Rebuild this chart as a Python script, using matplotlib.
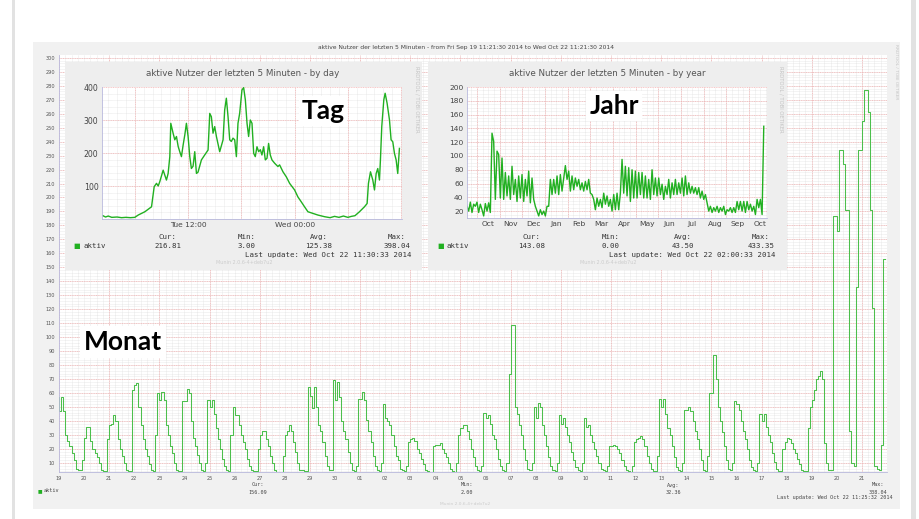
import numpy as np
import matplotlib.pyplot as plt
from matplotlib.patches import Rectangle

W, H = 920, 519

# ---------------- data ----------------
# Monat: 2-hour samples, one row per day (first sample 2h before the day label)
monat_labels = ['19', '20', '21', '22', '23', '24', '25', '26', '27', '28', '29', '30',
                '01', '02', '03', '04', '05', '06', '07', '08', '09', '10', '11', '12',
                '13', '14', '15', '16', '17', '18', '19', '20', '21']
monat_rows = [
    [57, 47, 57, 47, 30, 26, 22, 17, 12, 6, 5, 5],
    [12, 28, 36, 36, 26, 20, 17, 14, 10, 5, 4, 4],
    [27, 37, 38, 44, 40, 27, 20, 15, 10, 5, 4, 4],
    [62, 66, 67, 50, 37, 27, 20, 15, 9, 5, 4, 30],
    [60, 55, 61, 55, 37, 30, 22, 17, 10, 5, 4, 4],
    [54, 54, 63, 60, 40, 28, 22, 16, 10, 5, 4, 10],
    [55, 50, 55, 45, 35, 27, 20, 13, 8, 5, 4, 30],
    [50, 44, 44, 37, 30, 25, 20, 13, 8, 5, 4, 4],
    [20, 30, 33, 33, 27, 22, 15, 10, 5, 3, 3, 3],
    [15, 30, 33, 37, 33, 25, 18, 10, 5, 5, 4, 4],
    [64, 58, 49, 64, 50, 37, 33, 25, 15, 8, 5, 5],
    [69, 55, 68, 57, 40, 33, 27, 18, 10, 5, 4, 8],
    [56, 56, 61, 55, 41, 33, 25, 15, 8, 5, 4, 10],
    [52, 42, 40, 37, 30, 22, 15, 12, 6, 5, 4, 8],
    [25, 27, 28, 26, 20, 17, 13, 9, 5, 4, 3, 3],
    [22, 23, 23, 24, 20, 17, 14, 10, 6, 4, 3, 10],
    [30, 35, 37, 37, 33, 27, 20, 14, 8, 5, 4, 8],
    [46, 42, 44, 38, 30, 27, 20, 13, 8, 5, 4, 10],
    [74, 109, 109, 50, 45, 37, 30, 20, 12, 6, 5, 10],
    [50, 42, 53, 50, 37, 30, 22, 14, 8, 5, 4, 10],
    [44, 38, 42, 36, 30, 25, 18, 12, 7, 5, 4, 10],
    [42, 36, 37, 30, 25, 20, 15, 10, 6, 5, 4, 8],
    [22, 22, 23, 22, 20, 17, 12, 8, 5, 4, 3, 8],
    [25, 27, 28, 29, 27, 22, 15, 10, 6, 4, 4, 15],
    [56, 50, 56, 45, 35, 30, 22, 14, 7, 5, 4, 10],
    [48, 48, 50, 47, 40, 33, 27, 20, 12, 5, 4, 15],
    [60, 60, 87, 70, 50, 40, 32, 22, 12, 6, 5, 10],
    [54, 52, 48, 40, 33, 27, 20, 12, 7, 5, 4, 10],
    [45, 40, 45, 36, 30, 25, 17, 11, 6, 4, 4, 20],
    [25, 28, 27, 24, 20, 17, 13, 9, 5, 4, 4, 35],
    [50, 55, 62, 70, 72, 76, 70, 24, 10, 5, 5, 187],
    [187, 176, 234, 234, 224, 191, 191, 33, 10, 8, 136, 234],
    [234, 255, 277, 277, 261, 191, 121, 8, 6, 5, 23, 156],
]
monat_last = [156]

# Tag: hours since Tue 00:00
tag_hours = [2.4, 2.7, 3.0, 3.4, 4.0, 4.5, 5.0, 5.5, 6.0, 6.38, 7.13, 7.88, 8.18, 8.44,
             8.63, 8.81, 9.19, 9.56, 9.75, 9.94, 10.05, 10.31, 10.5, 10.69, 10.88, 11.06,
             11.25, 11.44, 11.63, 11.81, 12.0, 12.19, 12.37, 12.56, 12.75, 12.94, 13.12,
             13.5, 13.87, 14.25, 14.44, 14.62, 14.81, 15.0, 15.19, 15.56, 15.94, 16.12,
             16.31, 16.5, 16.69, 16.87, 17.06, 17.25, 17.44, 17.62, 17.81, 18.07, 18.26,
             18.45, 18.64, 18.82, 19.01, 19.2, 19.39, 19.57, 19.76, 19.95, 20.14, 20.32,
             20.51, 20.7, 20.89, 21.07, 21.26, 21.45, 21.75, 22.12, 22.31, 22.69, 23.06,
             23.44, 24.0, 24.37, 24.75, 25.12, 25.5, 26.06, 26.62, 27.37, 28.0, 28.5,
             29.0, 29.5, 30.0, 30.4, 30.8, 31.31, 31.87, 32.17, 32.32, 32.55, 32.81, 33.0,
             33.19, 33.37, 33.56, 33.67, 33.82, 34.05, 34.2, 34.42, 34.69, 34.87, 35.06,
             35.25, 35.44, 35.62, 35.81]
tag_values = [10, 6, 9, 5, 6, 4, 5, 4, 5, 12, 22, 37, 98, 108,
              100, 113, 148, 118, 138, 189, 290, 260, 240, 250, 220, 204,
              189, 224, 255, 290, 250, 189, 153, 160, 204, 138, 142,
              179, 194, 209, 320, 310, 260, 280, 250, 204, 240, 330,
              366, 310, 240, 235, 245, 240, 189, 290, 320, 391, 398,
              361, 290, 250, 300, 290, 199, 189, 219, 204, 210, 194,
              219, 179, 184, 229, 194, 179, 169, 159, 164, 143, 128,
              108, 88, 67, 52, 37, 22, 17, 12, 7, 4, 8,
              5, 9, 5, 8, 10, 22, 37, 47, 108, 143, 118, 88,
              138, 153, 118, 179, 280, 361, 381, 351, 300, 240, 234,
              199, 179, 138, 214]
tag_xlabels = ['Tue 12:00', 'Wed 00:00']

# Jahr: samples about every 2.2 days, starting mid Sep 2013
jahr_values = [27, 20, 33, 18, 30, 27, 33, 18, 30, 22, 13, 31, 20, 32, 18,
               133, 121, 37, 107, 102, 39, 97, 37, 76, 42, 71, 37, 85, 44, 66,
               34, 71, 39, 73, 34, 66, 42, 78, 32, 68, 37, 27, 20, 13, 22,
               15, 20, 13, 27, 27, 66, 44, 66, 46, 71, 44, 73, 49, 68, 86,
               66, 78, 49, 71, 51, 68, 56, 66, 51, 61, 49, 63, 51, 66, 46,
               44, 37, 22, 39, 27, 37, 25, 46, 30, 42, 27, 37, 20, 44, 22,
               46, 22, 46, 95, 46, 85, 42, 83, 34, 80, 39, 78, 39, 76, 44,
               76, 39, 71, 39, 66, 37, 80, 44, 68, 42, 68, 44, 59, 37, 56,
               44, 66, 39, 61, 44, 66, 44, 61, 46, 68, 42, 71, 44, 61, 46,
               56, 46, 54, 44, 54, 39, 49, 37, 44, 32, 20, 27, 18, 25, 20,
               27, 18, 25, 20, 27, 15, 22, 20, 25, 18, 25, 18, 34, 22, 34,
               20, 34, 18, 34, 22, 30, 20, 27, 15, 37, 25, 37, 15, 143]
jahr_months = ['Oct', 'Nov', 'Dec', 'Jan', 'Feb', 'Mar', 'Apr', 'May', 'Jun',
               'Jul', 'Aug', 'Sep', 'Oct']

GREEN = '#21b021'
RED = '#f2b0b0'
GREY = '#d9d9d9'

fig = plt.figure(figsize=(W / 100, H / 100), dpi=100)
fig.patch.set_facecolor('white')


def box(x0, y0, x1, y1):
    return [x0 / W, 1 - y1 / H, (x1 - x0) / W, (y1 - y0) / H]


def ftext(x, y, s, **kw):
    kw.setdefault('zorder', 6)
    return fig.text(x / W, 1 - y / H, s, **kw)


def rect(x0, y0, x1, y1, color, z):
    fig.patches.append(Rectangle((x0 / W, 1 - y1 / H), (x1 - x0) / W, (y1 - y0) / H,
                                 transform=fig.transFigure, facecolor=color,
                                 edgecolor='none', zorder=z))


def rrd_grid(ax, xminor, xmajor, yminor, ymajor):
    for x in xminor:
        ax.axvline(x, color=GREY, lw=0.4, ls=(0, (1, 1)), zorder=0)
    for y in yminor:
        ax.axhline(y, color=GREY, lw=0.4, ls=(0, (1, 1)), zorder=0)
    for x in xmajor:
        ax.axvline(x, color=RED, lw=0.5, ls=(0, (1.5, 1)), zorder=0.5)
    for y in ymajor:
        ax.axhline(y, color=RED, lw=0.5, ls=(0, (1.5, 1)), zorder=0.5)
    for s in ['top', 'right']:
        ax.spines[s].set_visible(False)
    for s in ['left', 'bottom']:
        ax.spines[s].set_color('#b8b8dc')
        ax.spines[s].set_linewidth(0.6)
    ax.tick_params(length=0, colors='#444444')


# outer slide frame
rect(12, 0, 15, H, '#e2e2e2', -2)
rect(911, 0, 916, H, '#e2e2e2', -2)

# ---------------- Monat (main graph) ----------------
rect(33, 42, 900, 509, '#f1f1f1', -1)
ax = fig.add_axes(box(59, 55, 887, 472), zorder=0)
ax.set_facecolor('white')
mv = np.concatenate([np.ravel(monat_rows), monat_last])
mt = np.arange(len(mv)) / 12 - 1 / 12
ax.step(mt, mv, where='post', color='#4cbf4c', lw=0.75, zorder=2)
ax.set_xlim(0, 33)
ax.set_ylim(3.5, 302)
rrd_grid(ax, np.arange(0.25, 33, 0.25), np.arange(0, 33, 2),
         np.arange(4, 302, 2), np.arange(10, 301, 10))
ax.set_yticks(np.arange(10, 301, 10))
ax.set_yticklabels([str(v) for v in range(10, 301, 10)], fontsize=3.6, color='#555555')
ax.set_xticks(np.arange(len(monat_labels)))
ax.set_xticklabels(monat_labels, fontsize=3.6, color='#555555')
ax.tick_params(axis='y', pad=3)
ax.tick_params(axis='x', pad=3)

ftext(466, 48, 'aktive Nutzer der letzten 5 Minuten - from Fri Sep 19 11:21:30 2014 '
      'to Wed Oct 22 11:21:30 2014', fontsize=4.3, color='#444444', ha='center', va='center')
ftext(896, 44, 'RRDTOOL / TOBI OETIKER', fontsize=3.2, color='#c4c4c4', rotation=270,
      ha='center', va='top')
mono = dict(family='DejaVu Sans Mono', fontsize=3.7, color='#444444', va='center')
ftext(40, 491, '■', fontsize=3.5, color=GREEN, va='center', ha='center')
ftext(44, 491, 'aktiv', ha='left', **mono)
for x, head, val in [(258, 'Cur:', '156.09'), (467, 'Min:', '2.00'),
                     (673, 'Avg:', '32.36'), (878, 'Max:', '338.04')]:
    ftext(x, 485, head, ha='center', **mono)
    ftext(x, 492, val, ha='center', **mono)
ftext(893, 498, 'Last update: Wed Oct 22 11:25:32 2014', ha='right', **mono)
ftext(465, 504, 'Munin 2.0.6-4+deb7u2', fontsize=3.2, color='#cccccc', ha='center',
      va='center')
ftext(123, 350, 'Monat', family='Lato', fontweight='bold', fontsize=19, color='black',
      ha='center', va='baseline',
      bbox=dict(facecolor='white', edgecolor='none', pad=3))


# ---------------- insets ----------------
def inset_legend(xs, cur, mn, avg, mx, upd):
    mono5 = dict(family='DejaVu Sans Mono', fontsize=5.3, color='#333333', va='center')
    ftext(xs, 246, '■', fontsize=5, color=GREEN, va='center', ha='center')
    ftext(xs + 6, 246, 'aktiv', ha='left', **mono5)
    for x, head, val in [(xs + 91, 'Cur:', cur), (xs + 170, 'Min:', mn),
                         (xs + 242, 'Avg:', avg), (xs + 320, 'Max:', mx)]:
        ftext(x, 237, head, ha='center', **mono5)
        ftext(x, 246, val, ha='center', **mono5)
    ftext(xs + 335, 255, 'Last update: ' + upd, ha='right', **mono5)
    ftext(xs + 167, 263, 'Munin 2.0.6-4+deb7u2', fontsize=3.5, color='#cccccc',
          ha='center', va='center')


# Tag
rect(65, 62, 422, 270, '#eeeeee', 1)
ax_t = fig.add_axes(box(102, 87, 402, 219), zorder=2)
ax_t.set_facecolor('white')
ax_t.plot(tag_hours, tag_values, color=GREEN, lw=1.0, zorder=2)
ax_t.set_xlim(2.3, 36.1)
ax_t.set_ylim(0, 400)
rrd_grid(ax_t, np.arange(3, 37, 1), np.arange(6, 37, 6),
         np.arange(20, 400, 20), np.arange(100, 401, 100))
ax_t.set_yticks([100, 200, 300, 400])
ax_t.set_yticklabels(['100', '200', '300', '400'], fontsize=5.6)
ax_t.set_xticks([12, 24])
ax_t.set_xticklabels(tag_xlabels, fontsize=5.4)
ax_t.tick_params(axis='both', pad=2.5)
ftext(243, 73, 'aktive Nutzer der letzten 5 Minuten - by day', fontsize=6.3,
      color='#555555', ha='center', va='center')
ftext(417, 66, 'RRDTOOL / TOBI OETIKER', fontsize=3.8, color='#c4c4c4', rotation=270,
      ha='center', va='top')
inset_legend(77, '216.81', '3.00', '125.38', '398.04', 'Wed Oct 22 11:30:33 2014')
ftext(323, 119, 'Tag', family='Lato', fontweight='bold', fontsize=19, color='black',
      ha='center', va='baseline',
      bbox=dict(facecolor='white', edgecolor='none', pad=2))

# Jahr
rect(428, 62, 787, 270, '#eeeeee', 1)
ax_j = fig.add_axes(box(467, 87, 767, 218), zorder=2)
ax_j.set_facecolor('white')
jx = -0.441 + np.arange(len(jahr_values)) * (5 / 68)
ax_j.plot(jx, jahr_values, color=GREEN, lw=1.0, zorder=2)
ax_j.set_xlim(-0.441, 12.79)
ax_j.set_ylim(10, 200)
rrd_grid(ax_j, np.arange(-0.25, 12.8, 0.25), np.arange(0, 13, 1),
         np.arange(15, 200, 5), np.arange(20, 201, 20))
ax_j.set_yticks(np.arange(20, 201, 20))
ax_j.set_yticklabels([str(v) for v in range(20, 201, 20)], fontsize=5.4)
ax_j.set_xticks(np.arange(len(jahr_months)) + 0.5)
ax_j.set_xticklabels(jahr_months, fontsize=5.4)
ax_j.tick_params(axis='both', pad=2.5)
ftext(607, 73, 'aktive Nutzer der letzten 5 Minuten - by year', fontsize=6.3,
      color='#555555', ha='center', va='center')
ftext(781, 66, 'RRDTOOL / TOBI OETIKER', fontsize=3.8, color='#c4c4c4', rotation=270,
      ha='center', va='top')
inset_legend(441, '143.08', '0.00', '43.50', '433.35', 'Wed Oct 22 02:00:33 2014')
ftext(614, 114, 'Jahr', family='Lato', fontweight='bold', fontsize=19, color='black',
      ha='center', va='baseline',
      bbox=dict(facecolor='white', edgecolor='none', pad=2))

fig.savefig('out.png', dpi=100)
